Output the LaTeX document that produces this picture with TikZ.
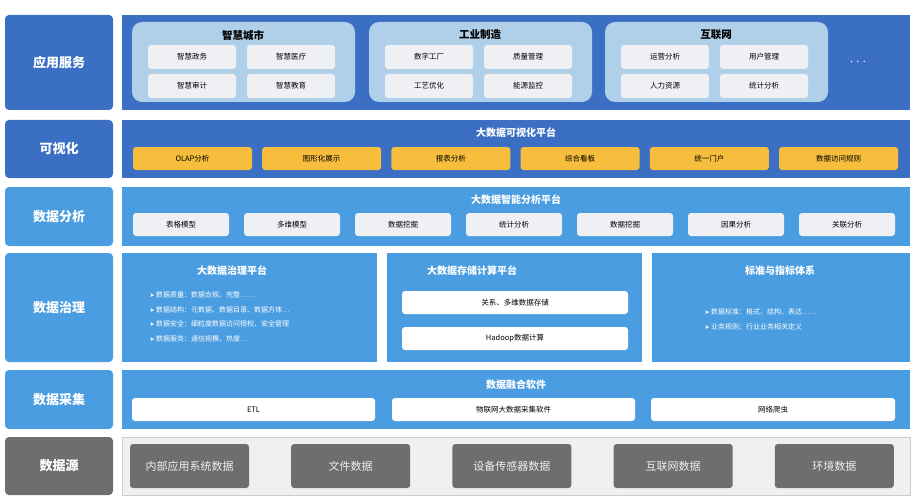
\documentclass[tikz,border=0pt]{standalone}
\usepackage{fontspec}
\setmainfont{Noto Sans CJK SC}
\newfontfamily\symfont{DejaVu Sans}
\definecolor{azulesc}{RGB}{58,111,196}
\definecolor{azulcla}{RGB}{74,157,224}
\definecolor{grupo}{RGB}{176,208,234}
\definecolor{caixa}{RGB}{238,240,243}
\definecolor{amarelo}{RGB}{246,190,60}
\definecolor{cinza}{RGB}{110,110,110}
\definecolor{fundo}{RGB}{240,240,240}
\tikzset{
  rotulo/.style={rounded corners=4pt, text=white, font=\bfseries\fontsize{13}{13}\selectfont},
  painel/.style={inner sep=0pt},
  grupobox/.style={fill=grupo, rounded corners=10pt},
  item/.style={fill=caixa, rounded corners=3pt, font=\fontsize{7.5}{7.5}\selectfont},
  itemam/.style={fill=amarelo, rounded corners=3pt, font=\fontsize{7.5}{7.5}\selectfont},
  itembr/.style={fill=white, rounded corners=3pt, font=\fontsize{7.5}{7.5}\selectfont},
  fonte/.style={fill=cinza, rounded corners=3pt, text=fundo, font=\fontsize{11}{11}\selectfont},
  titulo/.style={text=white, font=\bfseries\fontsize{10}{10}\selectfont},
  bala/.style={text=white, anchor=west, font=\fontsize{7}{7}\selectfont}
}
\begin{document}
\begin{tikzpicture}[x=1pt, y=-1pt]
    \useasboundingbox (0,0) rectangle (915,500);

    % Colunas da esquerda
    \foreach \nome/\ya/\yb/\cor/\txt in {apl/15/110/azulesc/应用服务, vis/120/178/azulesc/可视化,
        ana/187/246/azulcla/数据分析, gov/253/362/azulcla/数据治理, col/370/429/azulcla/数据采集,
        src/437/495/cinza/数据源}
    {
      \fill[rotulo, fill=\cor] (5,\ya) rectangle (113,\yb);
      \node[text=white, font=\bfseries\fontsize{13}{13}\selectfont] (L\nome) at (59,{(\ya+\yb)/2}) {\txt};
    }

    % Paineis
    \fill[azulesc] (122,15) rectangle (910,110);
    \fill[azulesc] (122,120) rectangle (910,178);
    \fill[azulcla] (122,187) rectangle (910,246);
    \fill[azulcla] (122,253) rectangle (377,362);
    \fill[azulcla] (387,253) rectangle (642,362);
    \fill[azulcla] (652,253) rectangle (910,362);
    \fill[azulcla] (122,370) rectangle (910,429);
    \fill[fundo, draw=gray!40] (122,437) rectangle (910,495);

    % Aplicacoes
    \foreach \i/\x/\t/\a/\b/\c/\d in {1/132/智慧城市/智慧政务/智慧医疗/智慧审计/智慧教育,
        2/369/工业制造/数字工厂/质量管理/工艺优化/能源监控,
        3/605/互联网/运营分析/用户管理/人力资源/统计分析}
    {
      \fill[grupobox] (\x,22) rectangle ({\x+223},102);
      \node[font=\bfseries\fontsize{10.5}{10.5}\selectfont] (G\i) at ({\x+111},35) {\t};
      \node[item, minimum width=88pt, minimum height=24pt] (G\i a) at ({\x+60},57) {\a};
      \node[item, minimum width=88pt, minimum height=24pt] (G\i b) at ({\x+159},57) {\b};
      \node[item, minimum width=88pt, minimum height=24pt] (G\i c) at ({\x+60},86) {\c};
      \node[item, minimum width=88pt, minimum height=24pt] (G\i d) at ({\x+159},86) {\d};
    }
    \node[text=white, font=\bfseries\fontsize{14}{14}\selectfont] (mais) at (858,62) {$\cdots$};

    % Visualizacao
    \node[titulo] (Tvis) at (516,133) {大数据可视化平台};
    \foreach \t [count=\i from 0] in {OLAP分析,图形化展示,报表分析,综合看板,统一门户,数据访问规则}
      \node[itemam, minimum width=119pt, minimum height=23pt] (V\i) at ({192.5+129.2*\i},158.5) {\t};

    % Analise
    \node[titulo] (Tana) at (516,200) {大数据智能分析平台};
    \foreach \t [count=\i from 0] in {表格模型,多维模型,数据挖掘,统计分析,数据挖掘,因果分析,关联分析}
      \node[item, minimum width=96pt, minimum height=23pt] (A\i) at ({181+111*\i},224.5) {\t};

    % Governanca
    \node[titulo] (Tgov) at (232,271) {大数据治理平台};
    \foreach \t [count=\i from 0] in {数据质量：数据合规、完整……,数据结构：元数据、数据目录、数据方体…,
        数据安全：细粒度数据访问授权、安全管理,数据服务：通信规模、热度…}
      \node[bala] (B\i) at (146,{295+14.5*\i}) {{\symfont\fontsize{6}{6}\selectfont ➤}\ \t};
    \node[titulo] (Tarm) at (472,271) {大数据存储计算平台};
    \node[itembr, minimum width=226pt, minimum height=23pt] (S1) at (515,302.5) {关系、多维数据存储};
    \node[itembr, minimum width=226pt, minimum height=23pt] (S2) at (515,338.5) {Hadoop数据计算};
    \node[titulo] (Tpad) at (780,271) {标准与指标体系};
    \node[bala] (P0) at (701,312) {{\symfont\fontsize{6}{6}\selectfont ➤}\ 数据标准：格式、结构、表达……};
    \node[bala] (P1) at (701,327) {{\symfont\fontsize{6}{6}\selectfont ➤}\ 业务规则：行业业务相关定义};

    % Coleta
    \node[titulo] (Tcol) at (516,385) {数据融合软件};
    \node[itembr, minimum width=243pt, minimum height=23pt] (C1) at (253.5,409.5) {ETL};
    \node[itembr, minimum width=243pt, minimum height=23pt] (C2) at (513.5,409.5) {物联网大数据采集软件};
    \node[itembr, minimum width=244pt, minimum height=23pt] (C3) at (773,409.5) {网络爬虫};

    % Fontes
    \foreach \t [count=\i from 0] in {内部应用系统数据,文件数据,设备传感器数据,互联网数据,环境数据}
      \node[fonte, minimum width=119pt, minimum height=44pt] (F\i) at ({189.5+161.2*\i},466) {\t};

\end{tikzpicture}
\end{document}
